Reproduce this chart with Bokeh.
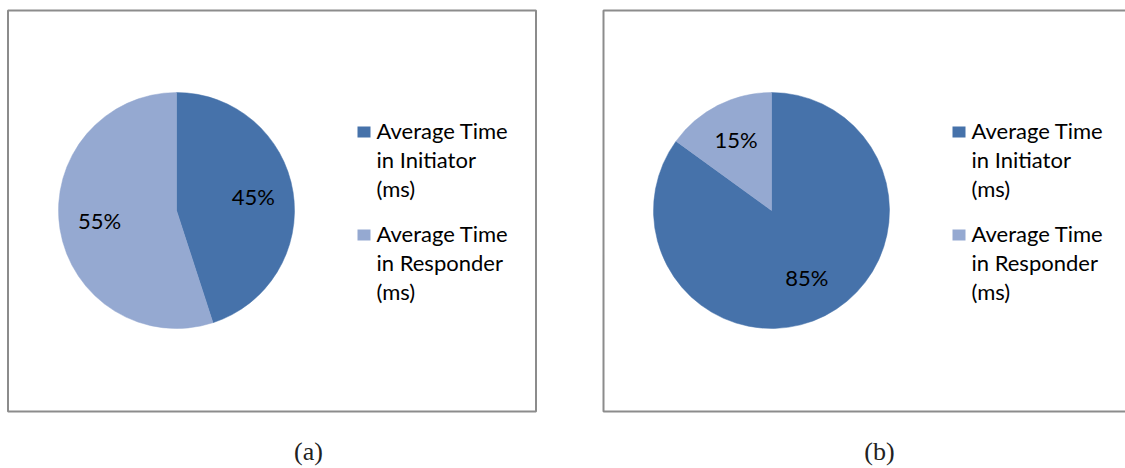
import math
from bokeh.plotting import figure
from bokeh.models import Range1d
from bokeh.core.properties import value
from bokeh.embed import file_html
from bokeh.resources import INLINE

# ---- data ----
series_lines = [["Average Time", "in Initiator", "(ms)"],
                ["Average Time", "in Responder", "(ms)"]]
pie_a = [45, 55]
pie_b = [85, 15]
captions = ["(a)", "(b)"]
colors = ["#4672AA", "#95A9D1"]

# ---- layout ----
W, H = 1125, 468


def X(x):
    return x


def Y(y):
    return H - y


p = figure(width=W, height=H, x_range=Range1d(0, W), y_range=Range1d(0, H),
           output_backend="svg", toolbar_location=None, min_border=0)
p.axis.visible = False
p.grid.visible = False
p.outline_line_color = None
p.background_fill_color = "white"
p.border_fill_color = "white"

R = 118
panels = [
    dict(vals=pie_a, cap=captions[0], cx=176, box=(7.5, 535.5), capx=308),
    dict(vals=pie_b, cap=captions[1], cx=771, box=(603, 1140), capx=879),
]
CY = 210
FONT = value("Lato")
FS = "22px"

for pn in panels:
    cx = pn["cx"]
    bl, br = pn["box"]
    p.quad(left=[X(bl)], right=[X(br)], top=[Y(10)], bottom=[Y(411)],
           fill_color=None, line_color="#8c8c8c", line_width=2)
    total = sum(pn["vals"])
    cum = 0.0
    for v, c in zip(pn["vals"], colors):
        frac = v / total
        start = math.pi / 2 - 2 * math.pi * cum
        end = math.pi / 2 - 2 * math.pi * (cum + frac)
        p.wedge(x=[X(cx)], y=[Y(CY)], radius=R, start_angle=start, end_angle=end,
                direction="clock", fill_color=c, line_color=c, line_width=0.5)
        mid = math.pi / 2 - 2 * math.pi * (cum + frac / 2)
        lx = cx + 0.66 * R * math.cos(mid)
        ly = CY - 0.66 * R * math.sin(mid) - 2
        p.text(x=[X(lx)], y=[Y(ly)], text=[f"{v}%"], text_font=FONT,
               text_font_size=FS, text_color="#000000",
               text_align="center", text_baseline="middle")
        cum += frac
    # legend
    for i, (lines, c) in enumerate(zip(series_lines, colors)):
        base = 137 + i * 103
        p.quad(left=[X(cx + 181)], right=[X(cx + 194)],
               top=[Y(base - 11)], bottom=[Y(base)],
               fill_color=c, line_color=None)
        for j, t in enumerate(lines):
            p.text(x=[X(cx + 200)], y=[Y(base - 7 + j * 29)], text=[t], text_font=FONT,
                   text_font_size=FS, text_color="#000000",
                   text_align="left", text_baseline="middle")
    p.text(x=[X(pn["capx"])], y=[Y(451)], text=[pn["cap"]],
           text_font=value("Liberation Serif"), text_font_size="26px",
           text_color="#222222", text_align="center", text_baseline="middle")

open("out.html", "w").write(file_html(p, INLINE))
